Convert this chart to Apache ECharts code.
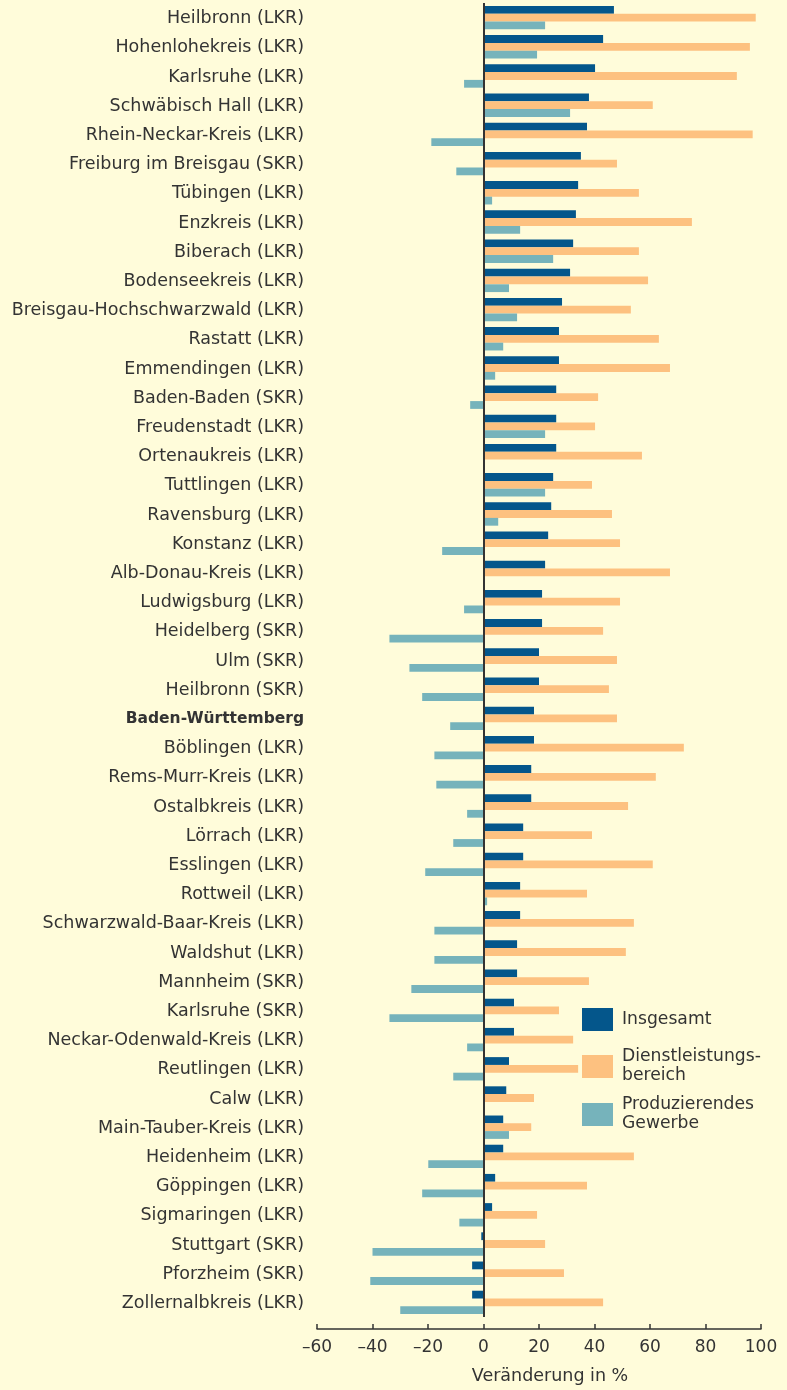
<!DOCTYPE html>
<html>
<head>
<meta charset="utf-8">
<script src="https://cdn.jsdelivr.net/npm/echarts@6/dist/echarts.min.js"></script>
<style>
html,body{margin:0;padding:0;background:#fffcda;}
#chart{width:787px;height:1390px;}
</style>
</head>
<body>
<div id="chart"></div>
<script>
const categories = [
  "Heilbronn (LKR)","Hohenlohekreis (LKR)","Karlsruhe (LKR)","Schwäbisch Hall (LKR)","Rhein-Neckar-Kreis (LKR)",
  "Freiburg im Breisgau (SKR)","Tübingen (LKR)","Enzkreis (LKR)","Biberach (LKR)","Bodenseekreis (LKR)",
  "Breisgau-Hochschwarzwald (LKR)","Rastatt (LKR)","Emmendingen (LKR)","Baden-Baden (SKR)","Freudenstadt (LKR)",
  "Ortenaukreis (LKR)","Tuttlingen (LKR)","Ravensburg (LKR)","Konstanz (LKR)","Alb-Donau-Kreis (LKR)",
  "Ludwigsburg (LKR)","Heidelberg (SKR)","Ulm (SKR)","Heilbronn (SKR)","Baden-Württemberg",
  "Böblingen (LKR)","Rems-Murr-Kreis (LKR)","Ostalbkreis (LKR)","Lörrach (LKR)","Esslingen (LKR)",
  "Rottweil (LKR)","Schwarzwald-Baar-Kreis (LKR)","Waldshut (LKR)","Mannheim (SKR)","Karlsruhe (SKR)",
  "Neckar-Odenwald-Kreis (LKR)","Reutlingen (LKR)","Calw (LKR)","Main-Tauber-Kreis (LKR)","Heidenheim (LKR)",
  "Göppingen (LKR)","Sigmaringen (LKR)","Stuttgart (SKR)","Pforzheim (SKR)","Zollernalbkreis (LKR)"
];
const insgesamt = [
  47.0,43.1,40.2,38.0,37.3,
  35.1,34.1,33.3,32.3,31.2,
  28.3,27.2,27.2,26.2,26.2,
  26.2,25.1,24.4,23.3,22.2,
  21.1,21.1,20.0,20.0,18.2,
  18.2,17.2,17.2,14.3,14.3,
  13.2,13.2,12.1,12.1,11.0,
  11.0,9.2,8.2,7.1,7.1,
  4.2,3.1,-0.8,-4.1,-4.1
];
const dienstleistung = [
  98.1,96.0,91.3,61.0,97.0,
  48.1,56.0,75.1,56.0,59.3,
  53.1,63.2,67.2,41.3,40.2,
  57.1,39.1,46.3,49.2,67.2,
  49.2,43.1,48.1,45.2,48.1,
  72.2,62.1,52.1,39.1,61.0,
  37.3,54.2,51.3,38.0,27.2,
  32.3,34.1,18.2,17.2,54.2,
  37.3,19.3,22.2,29.0,43.1
];
const produzierend = [
  22.2,19.3,-7.0,31.2,-18.8,
  -9.8,3.1,13.2,25.1,9.2,
  12.1,7.1,4.2,-4.8,22.2,
  0,22.2,5.3,-14.9,0,
  -7.0,-33.9,-26.7,-22.1,-12.0,
  -17.7,-17.0,-5.9,-10.9,-21.0,
  1.3,-17.7,-17.7,-26.0,-33.9,
  -5.9,-10.9,0,9.2,-19.9,
  -22.1,-8.7,-40.0,-40.8,-30.0
];
const seriesNames = ["Insgesamt","Dienstleistungs-\nbereich","Produzierendes\nGewerbe"];
const xTicks = {min:-60, max:100, interval:20};
const highlightCategory = "Baden-Württemberg";

const FONT = "'DejaVu Sans', sans-serif";
const FS = 17.5;
const colors = ["#04568b","#fdc180","#76b3bb"];
const chart = echarts.init(document.getElementById('chart'));

const legendBase = {
  orient:'vertical', left:582, itemWidth:31, itemHeight:23, itemGap:0, padding:0,
  icon:'rect', selectedMode:false,
  textStyle:{fontFamily:FONT, fontSize:17.2, color:'#333', lineHeight:19, padding:[0,0,0,4]}
};

chart.setOption({
  backgroundColor:'#fffcda',
  animation:false,
  grid:{left:317, right:26, top:3, height:1319, containLabel:false},
  xAxis:{
    type:'value', min:xTicks.min, max:xTicks.max, interval:xTicks.interval,
    offset:12,
    axisLine:{show:true, lineStyle:{color:'#333', width:1.5}},
    axisTick:{show:true, inside:true, length:5, lineStyle:{color:'#333', width:1.5}},
    splitLine:{show:false},
    axisLabel:{fontFamily:FONT, fontSize:17, color:'#333', margin:10,
      formatter:v => v < 0 ? '\u2013' + Math.abs(v) : String(v)},
    name:'Veränderung in %', nameLocation:'middle', nameGap:38,
    nameTextStyle:{fontFamily:FONT, fontSize:FS, color:'#333', padding:[0,0,0,22]}
  },
  yAxis:{
    type:'category', data:categories, inverse:true,
    axisLine:{show:false}, axisTick:{show:false},
    axisLabel:{margin:13, fontFamily:FONT, fontSize:FS, color:'#333', padding:[2,0,0,0],
      formatter:v => v === highlightCategory ? '{b|' + v + '}' : v,
      rich:{b:{fontFamily:FONT, fontSize:15.5, fontWeight:'bold', color:'#333'}}}
  },
  legend:[
    Object.assign({}, legendBase, {top:1008, data:[seriesNames[0]]}),
    Object.assign({}, legendBase, {top:1038, data:[seriesNames[1]],
      textStyle:Object.assign({}, legendBase.textStyle, {padding:[19,0,0,4]})}),
    Object.assign({}, legendBase, {top:1086, data:[seriesNames[2]],
      textStyle:Object.assign({}, legendBase.textStyle, {padding:[19,0,0,4]})})
  ],
  series:[
    {name:seriesNames[0], type:'bar', data:insgesamt, itemStyle:{color:colors[0]},
     barGap:'0%', barCategoryGap:'20%',
     markLine:{silent:true, symbol:'none', label:{show:false},
       lineStyle:{color:'#333', width:2, type:'solid'}, data:[{xAxis:0}], z:10}},
    {name:seriesNames[1], type:'bar', data:dienstleistung, itemStyle:{color:colors[1]}, barGap:'0%', barCategoryGap:'20%'},
    {name:seriesNames[2], type:'bar', data:produzierend, itemStyle:{color:colors[2]}, barGap:'0%', barCategoryGap:'20%'}
  ]
});
</script>
</body>
</html>
